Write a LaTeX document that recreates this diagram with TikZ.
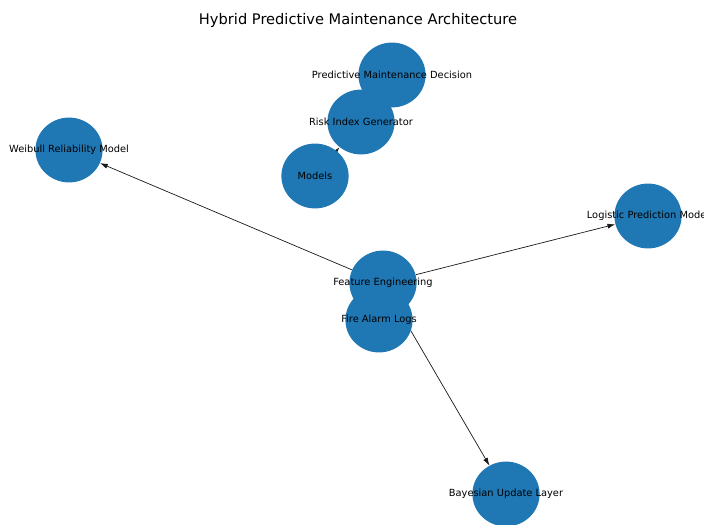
\documentclass[tikz,border=0pt]{standalone}
\usepackage{fontspec}
\setmainfont{DejaVu Sans}
\usetikzlibrary{arrows.meta,shapes.geometric,backgrounds}
\definecolor{nodeblue}{HTML}{1F77B4}

\begin{document}
\begin{tikzpicture}[x=0.025cm,y=-0.025cm,
  ball/.style={ellipse,fill=nodeblue,minimum width=1.68cm,minimum height=1.62cm,inner sep=0pt},
  lbl/.style={font=\fontsize{7}{8}\selectfont,inner sep=0pt,text=black},
  link/.style={black!90,line width=0.5pt,-{Latex[length=5.5pt,width=3.6pt]}}]
\useasboundingbox (0,0) rectangle (704,525);
\node[font=\fontsize{10.4}{12}\selectfont] (title) at (358,20) {Hybrid Predictive Maintenance Architecture};
% nodes
\node[ball] (pmd) at (392,75) {};
\node[ball] (risk) at (361,122) {};
\node[ball] (models) at (315,176) {};
\node[ball] (weibull) at (69,150) {};
\node[ball] (logit) at (648,216) {};
\node[ball] (fe) at (383,283) {};
\node[ball] (fal) at (379,320) {};
\node[ball] (bayes) at (506,494) {};
% edges go under the nodes
\begin{scope}[on background layer]
\draw[link] (fe) -- (weibull);
\draw[link] (fe) -- (logit);
\draw[link] (fe) -- (bayes);
\draw[link] (models) -- (risk);
\end{scope}
% labels on top
\node[lbl] (pmd-t) at (pmd) {Predictive Maintenance Decision};
\node[lbl] (risk-t) at (risk) {Risk Index Generator};
\node[lbl] (models-t) at (models) {Models};
\node[lbl] (weibull-t) at (weibull) {Weibull Reliability Model};
\node[lbl] (logit-t) at (logit) {Logistic Prediction Model};
\node[lbl] (fe-t) at (fe) {Feature Engineering};
\node[lbl] (fal-t) at (fal) {Fire Alarm Logs};
\node[lbl] (bayes-t) at (bayes) {Bayesian Update Layer};
\end{tikzpicture}
\end{document}
